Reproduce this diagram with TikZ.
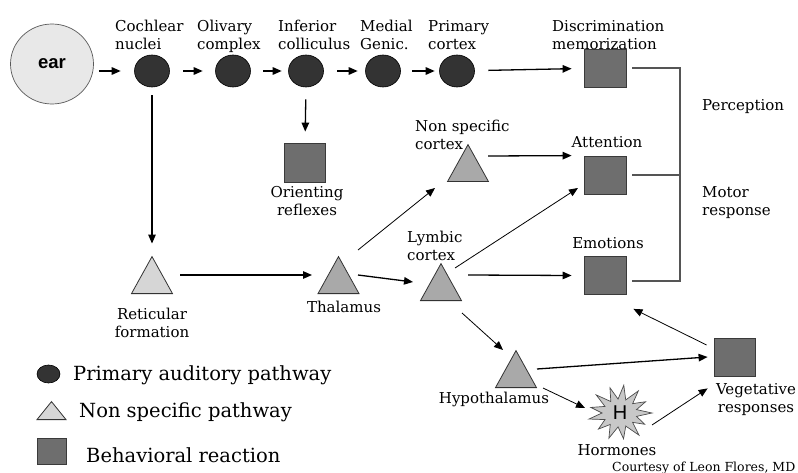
\documentclass[tikz,border=0pt]{standalone}
\usepackage{fontspec}
\setmainfont{DejaVu Serif}
\newfontfamily\sansfam{Liberation Sans}
\usetikzlibrary{shapes.geometric,arrows.meta,calc}
\definecolor{darkfill}{HTML}{333333}
\definecolor{sqfill}{HTML}{6E6E6E}
\definecolor{sqline}{HTML}{3A3A3A}
\definecolor{lighttri}{HTML}{D6D6D6}
\definecolor{midtri}{HTML}{A9A9A9}
\definecolor{earfill}{HTML}{E8E8E8}
\definecolor{burst}{HTML}{C8C8C8}
\definecolor{brk}{HTML}{555555}
\tikzset{
  dot/.style={ellipse, minimum width=35pt, minimum height=32pt, inner sep=0pt, fill=darkfill, draw=black, line width=0.6pt},
  sq/.style={rectangle, minimum width=42pt, minimum height=38pt, inner sep=0pt, fill=sqfill, draw=sqline, line width=0.8pt},
  tri/.style={isosceles triangle, isosceles triangle stretches, shape border rotate=90, minimum width=41pt, minimum height=37pt, inner sep=0pt, draw=black!80, line width=0.8pt, anchor=lower side},
  lbl/.style={inner sep=0pt, font=\fontsize{15}{18}\selectfont},
  leg/.style={inner sep=0pt, font=\fontsize{19.5}{22}\selectfont, anchor=base west},
  arr/.style={-{Triangle[length=9pt,width=7.5pt]}, line width=1.3pt},
  thin/.style={-{Triangle[length=9pt,width=7.5pt]}, line width=0.8pt},
  bracket/.style={draw=brk, line width=1.3pt},
}
\begin{document}
\begin{tikzpicture}[x=1pt,y=-1pt]
\useasboundingbox (0,0) rectangle (798,473);

% ear
\node[ellipse, minimum width=83pt, minimum height=80pt, fill=earfill, draw=black!65, line width=0.7pt, font=\sansfam\bfseries\fontsize{18.5}{20}\selectfont] (ear) at (52,64) {ear};

% primary pathway
\node[dot] (coch) at (152,71) {};
\node[dot] (oliv) at (233,71) {};
\node[dot] (inf)  at (306,71) {};
\node[dot] (med)  at (383,71) {};
\node[dot] (prim) at (457,71) {};

% squares
\node[sq] (disc)   at (605,68) {};
\node[sq, minimum width=41pt, minimum height=39pt] (orient) at (305,162.5) {};
\node[sq] (att)    at (605,175) {};
\node[sq] (emo)    at (605,275.5) {};
\node[sq, minimum width=41pt] (veg) at (734.5,357) {};

% triangles (placed by the midpoint of their base)
\node[tri, fill=lighttri] (ret)  at (152,294) {};
\node[tri, fill=midtri]   (thal) at (338.5,294) {};
\node[tri, fill=midtri]   (lymb) at (441,301) {};
\node[tri, fill=midtri]   (nons) at (468,182) {};
\node[tri, fill=midtri]   (hypo) at (516,388) {};

% hormones
\node[circle, minimum size=40pt, inner sep=0pt] (horm) at (620,413) {};
\path[fill=burst, draw=black!70, line width=0.7pt, line join=miter]
  ($(horm)+(0:32 and 25)$)
  -- ($(horm)+(14:17 and 14)$) -- ($(horm)+(28:28 and 24)$)
  -- ($(horm)+(42:17 and 14)$) -- ($(horm)+(55:33 and 27)$)
  -- ($(horm)+(69:16 and 14)$) -- ($(horm)+(83:29 and 26)$)
  -- ($(horm)+(97:16 and 14)$) -- ($(horm)+(111:31 and 27)$)
  -- ($(horm)+(125:17 and 14)$) -- ($(horm)+(138:29 and 24)$)
  -- ($(horm)+(152:17 and 14)$) -- ($(horm)+(166:32 and 25)$)
  -- ($(horm)+(180:18 and 14)$) -- ($(horm)+(194:30 and 23)$)
  -- ($(horm)+(208:17 and 14)$) -- ($(horm)+(222:32 and 27)$)
  -- ($(horm)+(235:16 and 14)$) -- ($(horm)+(249:28 and 27)$)
  -- ($(horm)+(263:16 and 14)$) -- ($(horm)+(277:31 and 28)$)
  -- ($(horm)+(291:16 and 14)$) -- ($(horm)+(305:32 and 27)$)
  -- ($(horm)+(318:17 and 14)$) -- ($(horm)+(332:29 and 24)$)
  -- ($(horm)+(346:17 and 14)$) -- cycle;
\node[inner sep=0pt, font=\sansfam\fontsize{20}{21}\selectfont] (hletter) at (horm) {H};

% labels
\node[lbl, anchor=base west, align=left] (lcoch) at (115,50) {Cochlear\\nuclei};
\node[lbl, anchor=base west, align=left] (lolv)  at (197,50) {Olivary\\complex};
\node[lbl, anchor=base west, align=left] (linf)  at (278,50) {Inferior\\colliculus};
\node[lbl, anchor=base west, align=left] (lmed)  at (360,50) {Medial\\Genic.};
\node[lbl, anchor=base west, align=left] (lprim) at (428,50) {Primary\\cortex};
\node[lbl, anchor=base west, align=left] (ldisc) at (552,50) {Discrimination\\memorization};
\node[lbl, anchor=base, align=center] (lorient) at (307,216) {Orienting\\reflexes};
\node[lbl, anchor=base, align=center] (lret) at (152,337) {Reticular\\formation};
\node[lbl, anchor=base] (lthal) at (344,312) {Thalamus};
\node[lbl, anchor=base west, align=left] (llymb) at (407,261) {Lymbic\\cortex};
\node[lbl, anchor=base west, align=left] (lnons) at (415,150) {Non specific\\cortex};
\node[lbl, anchor=base] (latt) at (607,148) {Attention};
\node[lbl, anchor=base] (lemo) at (608,249) {Emotions};
\node[lbl, anchor=base] (lhypo) at (494,403) {Hypothalamus};
\node[lbl, anchor=base] (lhorm) at (617,455) {Hormones};
\node[lbl, anchor=base, align=center] (lveg) at (756,412) {Vegetative\\responses};
\node[lbl, anchor=base west] (lperc) at (702,111) {Perception};
\node[lbl, anchor=base west, align=left] (lmot) at (702,216) {Motor\\response};

% connectors: primary row
\draw[arr, shorten <=5pt, shorten >=13.5pt] (ear.east |- coch) -- (coch);
\draw[arr, shorten <=13.5pt, shorten >=12.5pt] (coch) -- (oliv);
\draw[arr, shorten <=12.5pt, shorten >=6.5pt] (oliv) -- (inf);
\draw[arr, shorten <=13.5pt, shorten >=7.5pt] (inf) -- (med);
\draw[arr, shorten <=11.5pt, shorten >=4.5pt] (med) -- (prim);
\draw[arr, shorten <=13.5pt, shorten >=12pt] (prim) -- (disc);
% down
\draw[arr, shorten <=8pt, shorten >=12pt] (coch.south) -- (ret.apex);
\draw[arr, shorten <=12pt, shorten >=11pt] (inf.south) -- (orient.north);
% non specific pathway
\draw[arr] ($(ret.lower side)+(28,-19)$) -- ($(thal.lower side)+(-26.5,-19)$);
\draw[thin] ($(thal.lower side)+(19.5,-44)$) -- ($(nons.lower side)+(-33,6)$);
\draw[arr] ($(thal.lower side)+(19.5,-19)$) -- ($(lymb.lower side)+(-28,-19)$);
\draw[thin] ($(lymb.lower side)+(14,-33)$) -- ($(att)+(-27,13)$);
\draw[arr] ($(lymb.lower side)+(27,-26)$) -- ($(emo.west)+(-12,0)$);
\draw[arr] ($(nons.lower side)+(20,-26)$) -- ($(att.north west)+(-12,0)$);
\draw[thin] ($(lymb.lower side)+(21,12)$) -- ($(hypo.lower side)+(-13,-38)$);
\draw[arr] ($(hypo.lower side)+(21,-19)$) -- ($(veg.west)+(-6,0)$);
\draw[thin] ($(hypo.lower side)+(27,0)$) -- ($(horm)+(-35,-5)$);
\draw[thin] ($(horm)+(32,12)$) -- ($(veg.south west)+(-6,12)$);
\draw[thin] ($(veg.west)+(-7,-12)$) -- ($(emo.south east)+(7,14)$);

% bracket
\coordinate (brbot) at (680,281);
\draw[bracket] ($(disc.east)+(6,0)$) -| (brbot) -- ($(emo.east)+(6,5.5)$);
\draw[bracket] ($(att.east)+(6,0)$) -- (att.east -| brbot);

% legend
\node[ellipse, minimum width=23pt, minimum height=18pt, inner sep=0pt, fill=darkfill, draw=black, line width=0.6pt] (lgc) at (48.5,374) {};
\node[isosceles triangle, isosceles triangle stretches, shape border rotate=90, minimum width=29pt, minimum height=18pt, inner sep=0pt, fill=lighttri, draw=black!80, line width=0.8pt, anchor=lower side] (lgt) at (51.5,420) {};
\node[rectangle, minimum width=29pt, minimum height=26pt, inner sep=0pt, fill=sqfill, draw=sqline, line width=0.8pt] (lgs) at (51.5,451) {};
\node[leg] (lg1) at (73,380) {Primary auditory pathway};
\node[leg] (lg2) at (79,417) {Non specific pathway};
\node[leg] (lg3) at (86,462) {Behavioral reaction};

\node[inner sep=0pt, anchor=base west, font=\fontsize{12.5}{14}\selectfont] (credit) at (612,471) {Courtesy of Leon Flores, MD};
\end{tikzpicture}
\end{document}
